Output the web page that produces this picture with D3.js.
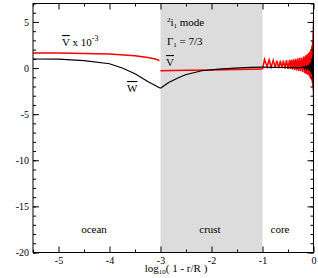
<!DOCTYPE html>
<html>
<head>
<meta charset="utf-8">
<script src="https://cdn.jsdelivr.net/npm/d3@7"></script>
<style>
body { margin: 0; background: #fff; }
text { font-family: "Liberation Serif", "DejaVu Serif", serif; fill: #000; }
</style>
</head>
<body>
<div class="chart"></div>
<script>
// values: [log10(1 - r/R), value]
const vOcean = [[-5.5,1.63],[-5,1.62],[-4.5,1.59],[-4,1.52],[-3.5,1.34],[-3.25,1.15],[-3.1,0.98],[-3.02,0.82]];
const vCrust = [[-3,-0.29],[-2.5,-0.24],[-2,-0.2],[-1.5,-0.15],[-1,-0.1]];
const vCore = [[-1,-0.1],[-0.96,0.95],[-0.91,0.15],[-0.87,0.9],[-0.83,0.1],[-0.79,0.85],[-0.75,0.05],
  [-0.72,0.8],[-0.68,0.0],[-0.65,0.8],[-0.62,0.0],[-0.59,0.8],[-0.56,-0.05],[-0.53,0.85],[-0.5,-0.1],
  [-0.47,0.9],[-0.45,-0.1],[-0.43,0.9],[-0.41,-0.15],[-0.39,0.95],[-0.37,-0.2],[-0.35,1.0],[-0.33,-0.25],
  [-0.31,1.05],[-0.29,-0.3],[-0.27,1.1],[-0.25,-0.35],[-0.23,1.15],[-0.21,-0.45],[-0.19,1.25],[-0.17,-0.55],
  [-0.155,1.35],[-0.14,-0.65],[-0.125,1.5],[-0.11,-0.75],[-0.095,1.65],[-0.08,-0.9],[-0.07,1.8],[-0.06,-1.1],
  [-0.05,2.0],[-0.04,-1.3],[-0.032,2.4],[-0.025,-1.6],[-0.018,3.0],[-0.012,-2.0],[-0.007,3.8],[-0.003,-2.4],[0,5.2]];

const wOcean = [[-5.5,0.98],[-5,0.97],[-4.5,0.8],[-4,0.47],[-3.75,0.0],[-3.5,-0.62],[-3.25,-1.45],[-3,-2.2]];
const wCrust = [[-3,-2.2],[-2.84,-1.56],[-2.67,-1.1],[-2.51,-0.73],[-2.19,-0.29],[-1.86,-0.11],[-1.54,0.0],[-1.24,0.07],[-1,0.1]];
const wCore = [[-1,0.1],[-0.8,0.08],[-0.6,0.06],[-0.4,0.05],[-0.25,0.05],[-0.2,0.15],[-0.18,-0.05],[-0.16,0.2],
  [-0.14,-0.1],[-0.12,0.3],[-0.1,-0.2],[-0.085,0.4],[-0.07,-0.3],[-0.06,0.55],[-0.05,-0.45],[-0.04,0.75],
  [-0.032,-0.65],[-0.025,1.0],[-0.018,-0.9],[-0.012,1.5],[-0.007,-1.6],[-0.004,2.5],[-0.002,-3.0],[-0.001,4.5],[0,-4.8]];

const xMajor = [-5,-4,-3,-2,-1,0];
const xMinor = [-5.5,-4.5,-3.5,-2.5,-1.5,-0.5];
const yMajor = [-20,-15,-10,-5,0,5];
const yMinor = d3.range(-20, 8, 1);
const crustBand = [-3,-1];

const width = 318, height = 278;
const margin = {top: 3.5, right: 4.5, bottom: 25.5, left: 33};

const svg = d3.select('.chart').append('svg')
    .attr('width', width)
    .attr('height', height);

const x = d3.scaleLinear().domain([-5.5, 0]).range([margin.left, width - margin.right]);
const y = d3.scaleLinear().domain([-20, 7]).range([height - margin.bottom, margin.top]);

// crust band
svg.append('rect')
    .attr('x', x(crustBand[0]))
    .attr('y', y(7))
    .attr('width', x(crustBand[1]) - x(crustBand[0]))
    .attr('height', y(-20) - y(7))
    .attr('fill', '#dcdcdc');

svg.append('clipPath').attr('id', 'clip')
    .append('rect')
    .attr('x', margin.left).attr('y', margin.top)
    .attr('width', width - margin.left - margin.right)
    .attr('height', height - margin.top - margin.bottom);

const line = d3.line().x(d => x(d[0])).y(d => y(d[1]));
const plot = svg.append('g').attr('clip-path', 'url(#clip)');

[vOcean, vCrust, vCore].forEach(s => {
    plot.append('path').attr('d', line(s))
        .attr('fill', 'none').attr('stroke', '#ff0000').attr('stroke-width', 1.5);
});
[wOcean, wCrust, wCore].forEach(s => {
    plot.append('path').attr('d', line(s))
        .attr('fill', 'none').attr('stroke', '#000').attr('stroke-width', 1.2);
});

// axes, ticks pointing inward
function styleAxis(g) {
    g.select('.domain').remove();
    g.selectAll('line').attr('stroke', '#000');
    g.selectAll('text').attr('font-size', 10).attr('font-family', '"Liberation Serif", serif');
}
const fmt = d => String(d);

svg.append('g').attr('transform', `translate(0,${y(-20)})`)
    .call(d3.axisBottom(x).tickValues(xMajor).tickSize(-6).tickPadding(4).tickFormat(fmt)).call(styleAxis);
svg.append('g').attr('transform', `translate(0,${y(-20)})`)
    .call(d3.axisBottom(x).tickValues(xMinor).tickSize(-3).tickFormat('')).call(styleAxis);
svg.append('g').attr('transform', `translate(0,${y(7)})`)
    .call(d3.axisTop(x).tickValues(xMajor).tickSize(-6).tickFormat('')).call(styleAxis);
svg.append('g').attr('transform', `translate(0,${y(7)})`)
    .call(d3.axisTop(x).tickValues(xMinor).tickSize(-3).tickFormat('')).call(styleAxis);
svg.append('g').attr('transform', `translate(${x(-5.5)},0)`)
    .call(d3.axisLeft(y).tickValues(yMajor).tickSize(-6).tickPadding(4).tickFormat(fmt)).call(styleAxis);
svg.append('g').attr('transform', `translate(${x(-5.5)},0)`)
    .call(d3.axisLeft(y).tickValues(yMinor).tickSize(-3).tickFormat('')).call(styleAxis);
svg.append('g').attr('transform', `translate(${x(0)},0)`)
    .call(d3.axisRight(y).tickValues(yMajor).tickSize(-6).tickFormat('')).call(styleAxis);
svg.append('g').attr('transform', `translate(${x(0)},0)`)
    .call(d3.axisRight(y).tickValues(yMinor).tickSize(-3).tickFormat('')).call(styleAxis);

// frame
svg.append('rect')
    .attr('x', x(-5.5)).attr('y', y(7))
    .attr('width', x(0) - x(-5.5)).attr('height', y(-20) - y(7))
    .attr('fill', 'none').attr('stroke', '#000').attr('stroke-width', 1);

// annotations
const t1 = svg.append('text').attr('x', 62).attr('y', 46).attr('font-size', 11);
t1.append('tspan').text('V').style('text-decoration', 'overline');
t1.append('tspan').text(' x 10');
t1.append('tspan').text('-3').attr('font-size', 8).attr('dy', -5);

svg.append('text').attr('x', 127).attr('y', 92).attr('font-size', 11)
    .append('tspan').text('W').style('text-decoration', 'overline');

const t2 = svg.append('text').attr('x', 167).attr('y', 26).attr('font-size', 11);
t2.append('tspan').text('2').attr('font-size', 7).attr('dy', -4);
t2.append('tspan').text('i').attr('dy', 4);
t2.append('tspan').text('1').attr('font-size', 7).attr('dy', 2);
t2.append('tspan').text(' mode').attr('dy', -2);

const t3 = svg.append('text').attr('x', 167).attr('y', 45).attr('font-size', 11);
t3.append('tspan').text('Γ');
t3.append('tspan').text('1').attr('font-size', 7).attr('dy', 2);
t3.append('tspan').text(' = 7/3').attr('dy', -2);

svg.append('text').attr('x', 166).attr('y', 66).attr('font-size', 11)
    .append('tspan').text('V').style('text-decoration', 'overline');

[['ocean', 94], ['crust', 210], ['core', 280]].forEach(d => {
    svg.append('text').attr('x', d[1]).attr('y', 233).attr('font-size', 11)
        .attr('text-anchor', 'middle').text(d[0]);
});

const xl = svg.append('text').attr('x', 176).attr('y', 272).attr('font-size', 11).attr('text-anchor', 'middle');
xl.append('tspan').text('log');
xl.append('tspan').text('10').attr('font-size', 7).attr('dy', 2);
xl.append('tspan').text('( 1 - r/R )').attr('dy', -2);
</script>
</body>
</html>
